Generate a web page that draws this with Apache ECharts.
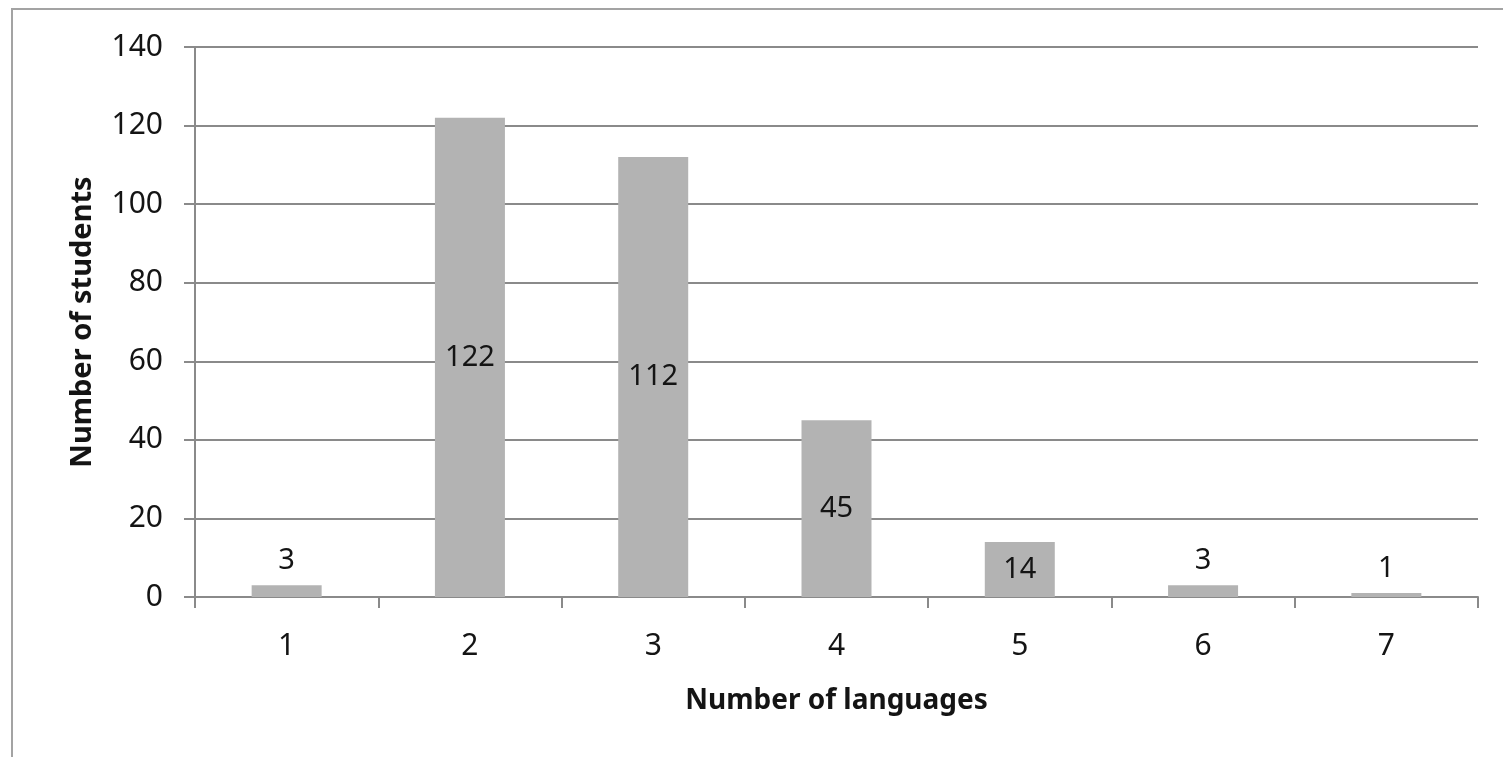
<!DOCTYPE html>
<html>
<head>
<meta charset="utf-8">
<script src="https://cdn.jsdelivr.net/npm/echarts@6/dist/echarts.min.js"></script>
<style>
  html, body { margin: 0; padding: 0; background: #ffffff; }
  #chart { width: 1503px; height: 757px; }
</style>
</head>
<body>
<div id="chart"></div>
<script>
// Distribution of students by number of languages spoken
const categories = ['1', '2', '3', '4', '5', '6', '7'];
const students = [3, 122, 112, 45, 14, 3, 1];
const yTicks = { min: 0, max: 140, interval: 20 };
const xTitle = 'Number of languages';
const yTitle = 'Number of students';

const FONT = 'Noto Sans';
const TEXT = '#141414';
const LINE = '#8a8a8a';

// small bars carry their label above, taller bars in the middle
const barData = students.map(v => ({
  value: v,
  label: { position: v < 10 ? 'top' : 'inside', distance: 10 }
}));

const chart = echarts.init(document.getElementById('chart'), null, { renderer: 'canvas' });
chart.setOption({
  animation: false,
  backgroundColor: '#ffffff',
  graphic: [{
    type: 'rect',
    shape: { x: 12, y: 9, width: 1600, height: 800 },
    style: { fill: 'none', stroke: '#a3a3a3', lineWidth: 2 },
    silent: true
  }],
  grid: { left: 195, top: 47, right: 25, bottom: 160, containLabel: false },
  xAxis: {
    type: 'category',
    data: categories,
    name: xTitle,
    nameLocation: 'middle',
    nameGap: 90,
    nameTextStyle: { fontFamily: FONT, fontWeight: 'bold', fontSize: 28, color: TEXT },
    axisLine: { lineStyle: { color: LINE, width: 2 } },
    axisTick: { show: true, length: 11, lineStyle: { color: LINE, width: 2 } },
    axisLabel: { margin: 34, fontFamily: FONT, fontSize: 30, color: TEXT },
    splitLine: { show: false }
  },
  yAxis: {
    type: 'value',
    min: yTicks.min,
    max: yTicks.max,
    interval: yTicks.interval,
    name: yTitle,
    nameLocation: 'middle',
    nameGap: 98,
    nameRotate: 90,
    nameTextStyle: { fontFamily: FONT, fontWeight: 'bold', fontSize: 29, color: TEXT },
    axisLine: { show: true, lineStyle: { color: LINE, width: 2 } },
    axisTick: { show: true, length: 11, lineStyle: { color: LINE, width: 2 } },
    axisLabel: { margin: 32, fontFamily: FONT, fontSize: 30, color: TEXT },
    splitLine: { show: true, lineStyle: { color: LINE, width: 2 } }
  },
  series: [{
    type: 'bar',
    data: barData,
    barWidth: 70,
    itemStyle: { color: '#b3b3b3' },
    label: {
      show: true,
      fontFamily: FONT,
      fontSize: 29,
      color: TEXT
    }
  }]
});
</script>
</body>
</html>
